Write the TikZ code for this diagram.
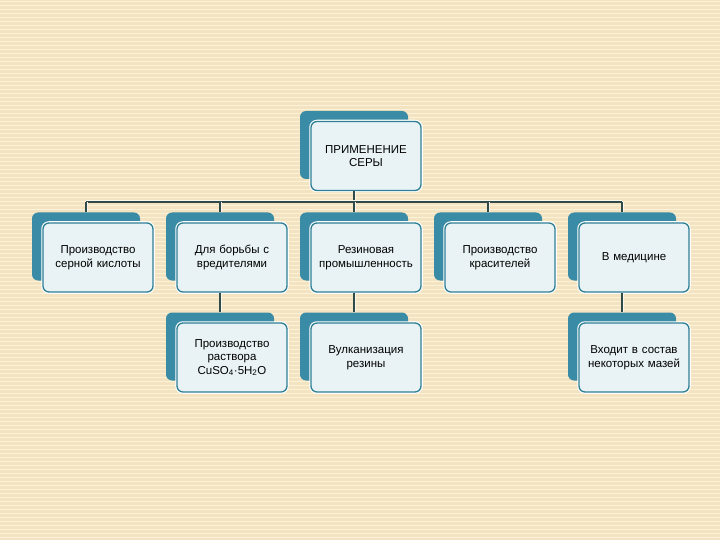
\documentclass[tikz,border=0pt]{standalone}
\usepackage{fontspec}
\setmainfont{Liberation Sans}
\begin{document}
\begin{tikzpicture}[x=1pt,y=-1pt,
  backbox/.style={draw=none,fill=boxteal,rounded corners=6pt,minimum width=108pt,minimum height=68pt,inner sep=0pt},
  frontbox/.style={draw=edgeteal,line width=1.3pt,fill=boxfill,rounded corners=6pt,minimum width=110pt,minimum height=69pt,inner sep=1pt,
     text width=108pt,align=center,font=\fontsize{11.5}{13.5}\selectfont,
     preaction={draw=white,line width=3.5pt}},
  link/.style={draw=linecol,line width=1.4pt,preaction={draw=white!70!bgbase,line width=3pt}}]
\definecolor{bgbase}{HTML}{F3E3C0}
\definecolor{bgstripe}{HTML}{FBF2DA}
\definecolor{boxteal}{HTML}{3A8CA6}
\definecolor{edgeteal}{HTML}{2F7F94}
\definecolor{boxfill}{HTML}{E9F3F6}
\definecolor{linecol}{HTML}{2F4A48}
\useasboundingbox (0,0) rectangle (720,540);
\fill[bgbase] (0,0) rectangle (720,540);
\foreach \k in {0,...,134} {
  \fill[bgstripe] (0,\k*4+1) rectangle (720,\k*4+2.4);
}
\newcommand\mybox[4]{%
  \node[backbox] (#1b) at (#2-12,#3-11) {};
  \node[frontbox] (#1) at (#2,#3) {#4};
}
% boxes
\mybox{top}{366}{156}{ПРИМЕНЕНИЕ\\СЕРЫ}
\mybox{a}{98}{257.5}{Производство\\серной кислоты}
\mybox{b}{232}{257.5}{Для борьбы с\\вредителями}
\mybox{c}{366}{257.5}{Резиновая\\промышленность}
\mybox{d}{500}{257.5}{Производство\\красителей}
\mybox{e}{634}{257.5}{В медицине}
\mybox{f}{232}{357.5}{Производство\\раствора\\CuSO\textsubscript{4}·5H\textsubscript{2}O}
\mybox{g}{366}{357.5}{Вулканизация\\резины}
\mybox{h}{634}{357.5}{Входит в состав\\некоторых мазей}
% connectors
\coordinate (bus) at (354,202);
\path[link] (topb.south |- top.south) -- (bus);
\path[link] (bus -| ab) -- (bus -| eb);
\foreach \n in {a,b,c,d,e} {
  \path[link] (bus -| \n b) -- (\n b.north);
}
\path[link] (bb.south |- b.south) -- (fb.north);
\path[link] (cb.south |- c.south) -- (gb.north);
\path[link] (eb.south |- e.south) -- (hb.north);
\end{tikzpicture}
\end{document}
